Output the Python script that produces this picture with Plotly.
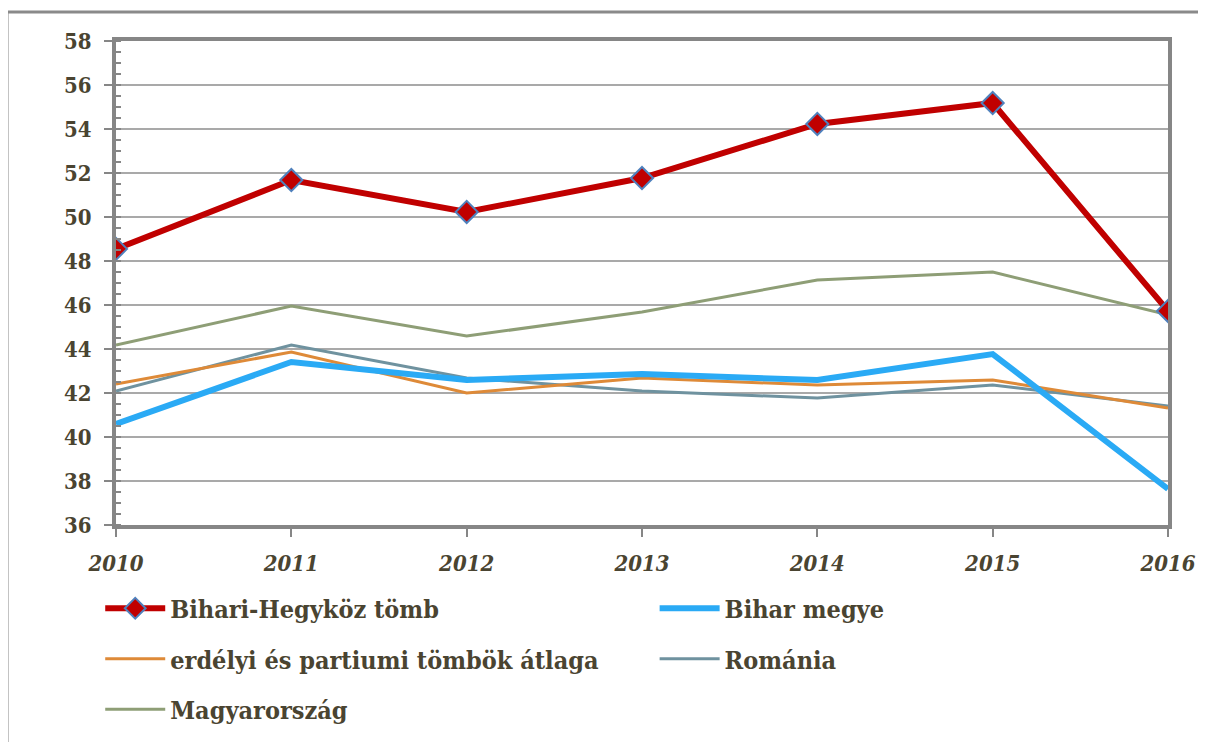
import plotly.graph_objects as go

years = [2010, 2011, 2012, 2013, 2014, 2015, 2016]
bihari_hegykoz = [48.55, 51.68, 50.23, 51.77, 54.23, 55.18, 45.73]
bihar_megye = [40.59, 43.41, 42.59, 42.86, 42.59, 43.77, 37.64]
erdelyi_partiumi = [42.41, 43.86, 42.00, 42.68, 42.36, 42.59, 41.32]
romania = [42.09, 44.18, 42.68, 42.09, 41.77, 42.36, 41.41]
magyarorszag = [44.18, 45.95, 44.59, 45.68, 47.14, 47.50, 45.55]

names = ["Bihari-Hegyköz tömb", "Bihar megye", "erdélyi és partiumi tömbök átlaga",
         "Románia", "Magyarország"]
y_ticks = list(range(36, 59, 2))

TXT = "#4A4431"
FONT = "DejaVu Serif Condensed, DejaVu Serif, serif"

fig = go.Figure()

fig.add_trace(go.Scatter(x=years, y=magyarorszag, name=names[4], mode="lines",
                         line=dict(color="#8E9E76", width=3),
                         legend="legend", legendgroup="g5", legendrank=3))
fig.add_trace(go.Scatter(x=years, y=romania, name=names[3], mode="lines",
                         line=dict(color="#6F929F", width=3),
                         legend="legend2", legendgroup="g4", legendrank=2))
fig.add_trace(go.Scatter(x=years, y=erdelyi_partiumi, name=names[2], mode="lines",
                         line=dict(color="#DE8A38", width=3),
                         legend="legend", legendgroup="g3", legendrank=2))
fig.add_trace(go.Scatter(x=years, y=bihar_megye, name=names[1], mode="lines",
                         line=dict(color="#2AAAF5", width=6),
                         legend="legend2", legendgroup="g2", legendrank=1))
fig.add_trace(go.Scatter(x=years, y=bihari_hegykoz, name=names[0], mode="lines+markers",
                         line=dict(color="#C00000", width=6),
                         marker=dict(symbol="diamond", size=17, color="#C00000",
                                     line=dict(color="#4F81BD", width=2)),
                         legend="legend", legendgroup="g1", legendrank=1))

legend_common = dict(
    orientation="v", xanchor="left", yanchor="top",
    font=dict(family=FONT, size=25, color=TXT, weight="bold"),
    itemwidth=60, tracegroupgap=15, bgcolor="rgba(0,0,0,0)",
    traceorder="grouped",
)

fig.update_layout(
    width=1198, height=734,
    margin=dict(l=108, r=38, t=33, b=217, autoexpand=False),
    plot_bgcolor="white", paper_bgcolor="white",
    showlegend=True,
    legend=dict(x=-0.015, y=-0.125, **legend_common),
    legend2=dict(x=0.512, y=-0.125, **legend_common),
    xaxis=dict(
        range=[2010, 2016], tickvals=years, ticktext=[str(v) for v in years],
        showgrid=False, zeroline=False, automargin=False,
        showline=True, linecolor="#868686", linewidth=4, mirror=True,
        ticks="outside", ticklen=8, tickwidth=2, tickcolor="#868686",
        ticklabelstandoff=8,
        tickfont=dict(family=FONT, size=22, color=TXT, weight="bold", style="italic"),
    ),
    yaxis=dict(
        range=[36, 58], tickvals=y_ticks, automargin=False,
        showgrid=True, gridcolor="#A9A9A9", gridwidth=2, zeroline=False,
        showline=True, linecolor="#868686", linewidth=4, mirror=True,
        ticks="outside", ticklen=8, tickwidth=2, tickcolor="#868686",
        ticklabelstandoff=8,
        minor=dict(dtick=0.5, ticks="inside", ticklen=5, tickwidth=2,
                   tickcolor="#868686", showgrid=False),
        tickfont=dict(family=FONT, size=22, color=TXT, weight="bold"),
    ),
    shapes=[dict(type="rect", xref="paper", yref="paper",
                 x0=-0.1036, x1=1.06, y0=-0.5, y1=1.06,
                 line=dict(color="#8A8A8A", width=3), fillcolor="rgba(0,0,0,0)",
                 layer="below")],
)

fig.write_html("out.html")
